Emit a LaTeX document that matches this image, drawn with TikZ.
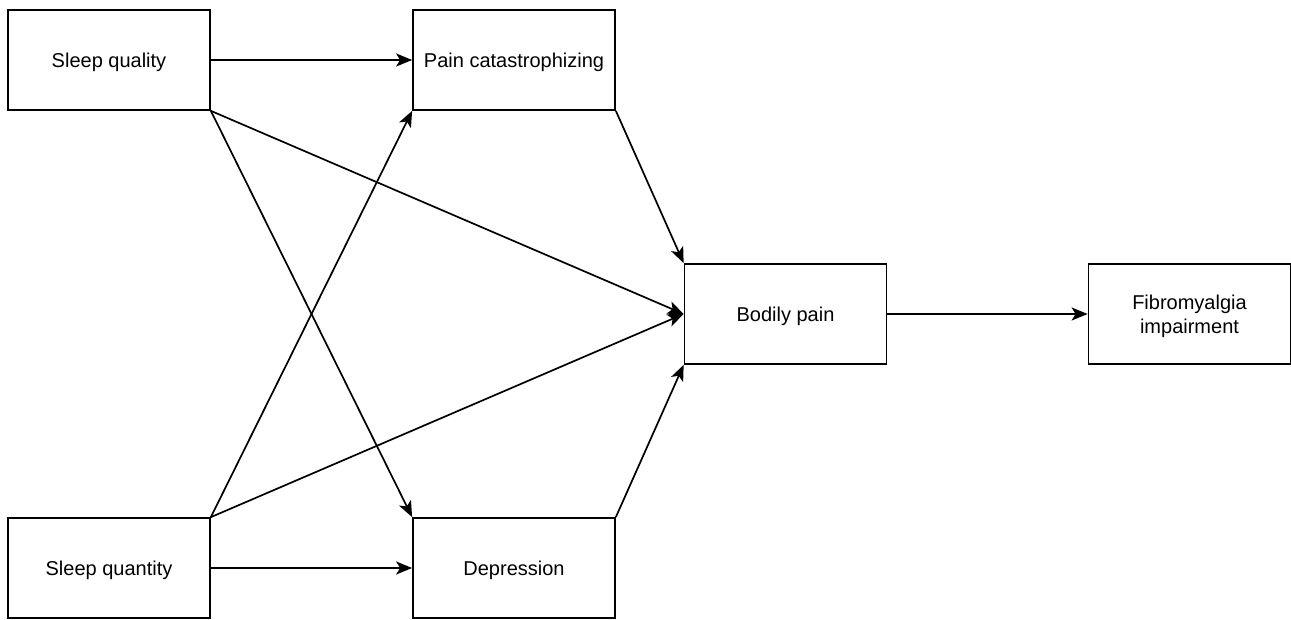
\documentclass[tikz,border=0pt]{standalone}
\usepackage{fontspec}
\setmainfont{Liberation Sans}
\usetikzlibrary{arrows.meta}
\begin{document}
\begin{tikzpicture}[x=1pt,y=-1pt,
  box/.style={draw, line width=1.7pt, minimum width=202pt, minimum height=100pt, inner sep=2pt, align=center, text depth=0pt, font=\fontsize{20}{24}\selectfont},
  conn/.style={line width=1.7pt, -{Stealth[length=16pt,width=13pt,inset=4pt]}}]
\useasboundingbox (0,0) rectangle (1291,620);
\node[box] (sq) at (109,60) {Sleep quality};
\node[box] (pc) at (514,60) {Pain catastrophizing};
\node[box] (bp) at (785.5,314) {Bodily pain};
\node[box] (fi) at (1189.5,314) {Fibromyalgia\\impairment};
\node[box] (sn) at (109,568) {Sleep quantity};
\node[box] (dep) at (514,568) {Depression};
\draw[conn] (sq.east) -- (pc.west);
\draw[conn] (sq.south east) -- (bp.west);
\draw[conn] (sq.south east) -- (dep.north west);
\draw[conn] (sn.north east) -- (pc.south west);
\draw[conn] (sn.north east) -- (bp.west);
\draw[conn] (sn.east) -- (dep.west);
\draw[conn] (pc.south east) -- (bp.north west);
\draw[conn] (dep.north east) -- (bp.south west);
\draw[conn] (bp.east) -- (fi.west);
\end{tikzpicture}
\end{document}
